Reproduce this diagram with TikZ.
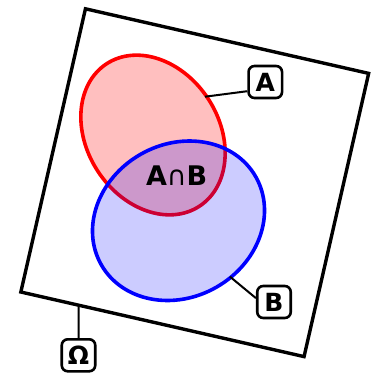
\documentclass[tikz,border=0pt]{standalone}
\usepackage{fontspec}
\setmainfont{DejaVu Sans}
\usetikzlibrary{shapes.geometric,calc}
\begin{document}
\begin{tikzpicture}[x=1pt,y=1pt,
  lbl/.style={draw, fill=white, line width=2.6pt, rounded corners=6pt,
    minimum width=33.5pt, minimum height=32pt, inner sep=0pt,
    font=\bfseries\fontsize{25}{25}\selectfont},
  conn/.style={line width=2pt},
  frame/.style={draw, line width=3.4pt, inner sep=0pt, outer sep=0pt},
  setA/.style={ellipse, draw=red, fill=red!25, line width=3.6pt, inner sep=0pt},
  setB/.style={ellipse, draw=blue, fill=blue, fill opacity=0.2, draw opacity=1,
    line width=3.6pt, inner sep=0pt},
]
\useasboundingbox (0,0) rectangle (379,376);
\node[frame, minimum size=290.5pt, rotate=-12.85] (omega) at (194.75,193.3) {};
\node[setA, minimum width=170pt, minimum height=132pt, rotate=-57] (A) at (153,241) {};
\node[setB, minimum width=177.8pt, minimum height=153pt, rotate=29.8] (B) at (178.5,155.25) {};
\node[font=\fontsize{27}{27}\selectfont] (AB) at (176.7,200.5) {\textbf{A}∩\textbf{B}};
\coordinate (Ae) at (205,279.3);
\coordinate (Be) at (230,99.3);
\coordinate (Oe) at ($(omega.south west)!0.204!(omega.south east)$);
\node[lbl] (Abox) at (265.3,294) {A};
\node[lbl] (Bbox) at (274,74) {B};
\node[lbl] (Obox) at (78.5,20.7) {Ω};
\draw[conn] (Ae) -- (Abox.207);
\draw[conn] (Be) -- (Bbox.168);
\draw[conn] (Oe) -- (Obox);
\end{tikzpicture}
\end{document}
